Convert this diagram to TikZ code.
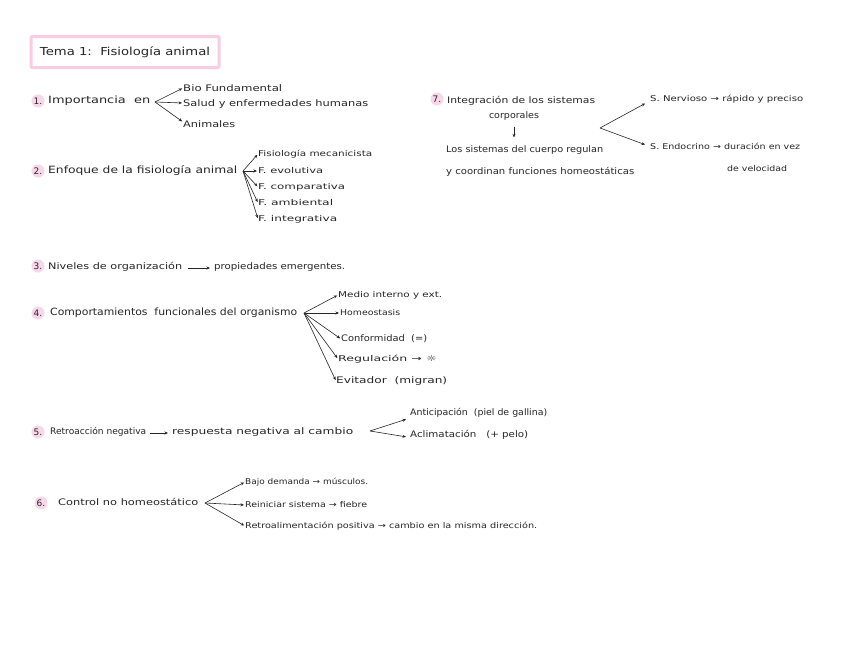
\documentclass[tikz,border=0pt]{standalone}
\usepackage{fontspec}
\usepackage{graphicx}
\setmainfont{DejaVu Sans}
\usetikzlibrary{arrows.meta}
\definecolor{pinkborder}{HTML}{F8CDE4}
\definecolor{pinkdot}{HTML}{F9D7EB}
\definecolor{ink}{HTML}{262626}
\newcommand\fitw[2]{\resizebox{#1pt}{\height}{#2}}
\tikzset{
  main/.style={anchor=west, inner sep=0pt, text=ink, font=\fontsize{10}{12}\selectfont},
  sub/.style={anchor=west, inner sep=0pt, text=ink, font=\fontsize{9}{11}\selectfont},
  small/.style={anchor=west, inner sep=0pt, text=ink, font=\fontsize{8}{10}\selectfont},
  numdot/.style={circle, fill=pinkdot, minimum size=13pt, inner sep=0pt, text=ink, font=\fontsize{9}{10}\selectfont},
  conn/.style={draw=ink, line width=0.6pt, shorten >=1pt, -{Stealth[length=3.5pt,width=3pt]}},
  titlebox/.style={draw=pinkborder, line width=3pt, rounded corners=1pt, minimum width=188pt, minimum height=31pt, text=ink, font=\fontsize{11}{13}\selectfont}
}
\begin{document}
\begin{tikzpicture}[x=1pt,y=-1pt]
\useasboundingbox[fill=white] (0,0) rectangle (848,656);

% title
\node[titlebox] (title) at (125,52) {\fitw{170}{Tema 1:\ \ Fisiología animal}};

% 1
\node[numdot] (n1) at (38,101) {1.};
\node[main] (imp) at (48,101) {\fitw{102}{Importancia\ \ en}};
\coordinate (f1) at (155,102);
\node[sub] (i1) at (183,88) {\fitw{99}{Bio Fundamental}};
\node[sub] (i2) at (183,104) {\fitw{185}{Salud y enfermedades humanas}};
\node[sub] (i3) at (183,124) {\fitw{52}{Animales}};
\draw[conn] (f1) -- (i1.west);
\draw[conn] (f1) -- ([yshift=1pt]i2.west);
\draw[conn] (f1) -- ([yshift=2pt]i3.west);

% 2
\node[numdot] (n2) at (38,171) {2.};
\node[main] (enf) at (48,171) {\fitw{189}{Enfoque de la fisiología animal}};
\coordinate (f2) at (243,171);
\node[small] (e1) at (258,154) {\fitw{114}{Fisiología mecanicista}};
\node[small] (e2) at (258,171) {\fitw{65}{F.\ evolutiva}};
\node[small] (e3) at (258,187) {\fitw{87}{F.\ comparativa}};
\node[small] (e4) at (258,203) {\fitw{75}{F.\ ambiental}};
\node[small] (e5) at (258,219) {\fitw{79}{F.\ integrativa}};
\foreach \t in {e1,e2,e3,e4,e5} \draw[conn] (f2) -- (\t.west);

% 3
\node[numdot] (n3) at (38,266) {3.};
\node[sub] (niv) at (48,267) {\fitw{134}{Niveles de organización}};
\node[sub] (prop) at (214,267) {\fitw{131}{propiedades emergentes.}};
\draw[conn] ([xshift=6pt,yshift=-1pt]niv.east) -- ([xshift=-3pt,yshift=-1pt]prop.west);

% 4
\node[numdot] (n4) at (38,313) {4.};
\node[main] (comp) at (50,313) {\fitw{247}{Comportamientos\ \ funcionales del organismo}};
\coordinate (f4) at (304,313);
\node[small] (c1) at (338,295) {\fitw{104}{Medio interno y ext.}};
\node[small] (c2) at (340,313) {\fitw{60}{Homeostasis}};
\node[sub] (c3) at (341,339) {\fitw{86}{Conformidad\ \ (=)}};
\node[small] (c4) at (338,359) {\fitw{99}{Regulación → ☼}};
\node[sub] (c5) at (336,381) {\fitw{111}{Evitador\ \ (migran)}};
\foreach \t in {c1,c2,c3,c4,c5} \draw[conn] (f4) -- (\t.west);

% 5
\node[numdot] (n5) at (38,432) {5.};
\node[sub] (ret) at (50,432) {\fitw{96}{Retroacción negativa}};
\node[sub] (resp) at (172,432) {\fitw{181}{respuesta negativa al cambio}};
\draw[conn] ([xshift=4pt,yshift=-1pt]ret.east) -- ([xshift=-3pt,yshift=-1pt]resp.west);
\coordinate (f5) at (370,431);
\node[sub] (r1) at (410,413) {\fitw{137}{Anticipación\ \ (piel de gallina)}};
\node[sub] (r2) at (410,435) {\fitw{118}{Aclimatación\ \ \ (+ pelo)}};
\draw[conn] (f5) -- ([xshift=-3pt,yshift=-6pt]r1.west);
\draw[conn] (f5) -- ([xshift=-3pt,yshift=-2pt]r2.west);

% 6
\node[numdot] (n6) at (41,503) {6.};
\node[sub] (ctrl) at (58,502) {\fitw{140}{Control no homeostático}};
\coordinate (f6) at (205,503);
\node[small] (h1) at (245,482) {\fitw{123}{Bajo demanda → músculos.}};
\node[small] (h2) at (245,505) {\fitw{122}{Reiniciar sistema → fiebre}};
\node[small] (h3) at (245,526) {\fitw{292}{Retroalimentación positiva → cambio en la misma dirección.}};
\foreach \t in {h1,h2,h3} \draw[conn] (f6) -- (\t.west);

% 7
\node[numdot] (n7) at (437,99) {7.};
\node[sub] (integ) at (447,101) {\fitw{148}{Integración de los sistemas}};
\node[sub, anchor=center] (corp) at (514,116) {\fitw{50}{corporales}};
\node[sub] (los) at (446,150) {\fitw{157}{Los sistemas del cuerpo regulan}};
\node[sub] (coord) at (446,172) {\fitw{188}{y coordinan funciones homeostáticas}};
\draw[conn] ([yshift=-6pt]corp.south) -- ([yshift=7pt]corp.south |- los.north);
\coordinate (f7) at (600,128);
\node[small] (s1) at (650,99) {\fitw{153}{S.\ Nervioso → rápido y preciso}};
\node[small] (s2) at (650,146) {\fitw{150}{S.\ Endocrino → duración en vez}};
\node[small] (s2b) at (727,169) {\fitw{60}{de velocidad}};
\draw[conn] (f7) -- ([xshift=-4pt,yshift=-4pt]s1.west);
\draw[conn] (f7) -- ([xshift=-4pt,yshift=1pt]s2.west);
\end{tikzpicture}
\end{document}
